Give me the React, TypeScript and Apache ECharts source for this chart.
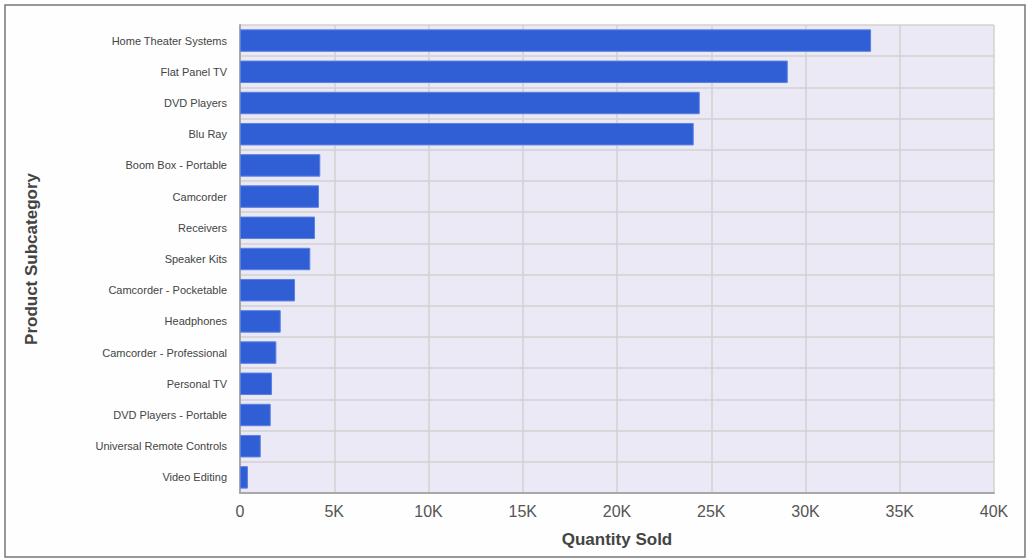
import React, { useEffect, useRef } from "react";
import * as echarts from "echarts";

const categories = [
  "Home Theater Systems",
  "Flat Panel TV",
  "DVD Players",
  "Blu Ray",
  "Boom Box - Portable",
  "Camcorder",
  "Receivers",
  "Speaker Kits",
  "Camcorder - Pocketable",
  "Headphones",
  "Camcorder - Professional",
  "Personal TV",
  "DVD Players - Portable",
  "Universal Remote Controls",
  "Video Editing",
];

const quantitySold = [
  33480, 29060, 24390, 24070, 4260, 4190, 3980, 3730, 2920, 2160, 1930, 1700,
  1630, 1100, 420,
];

const xTicks = { min: 0, max: 40000, interval: 5000 };

export default function App() {
  const ref = useRef<HTMLDivElement>(null);
  useEffect(() => {
    document.body.style.margin = "0";
    const chart = echarts.init(ref.current!, null, { renderer: "svg" });
    chart.setOption({
      animation: false,
      backgroundColor: "#ffffff",
      graphic: [
        {
          type: "rect",
          shape: { x: 5, y: 5, width: 1020, height: 552 },
          style: { fill: "#fdfefd", stroke: "#777777", lineWidth: 1.5 },
          z: -10,
          silent: true,
        },
      ],
      grid: {
        left: 240,
        right: 34,
        top: 25,
        bottom: 67,
        show: true,
        backgroundColor: "#ebe9f5",
        borderWidth: 0,
      },
      xAxis: {
        type: "value",
        min: xTicks.min,
        max: xTicks.max,
        interval: xTicks.interval,
        name: "Quantity Sold",
        nameLocation: "middle",
        nameGap: 38,
        nameTextStyle: {
          fontFamily: "Liberation Sans",
          fontWeight: "bold",
          fontSize: 17,
          color: "#444444",
        },
        axisLine: { show: true, lineStyle: { color: "#a8a8a8", width: 2 } },
        axisTick: { show: false },
        axisLabel: {
          fontFamily: "Liberation Sans",
          fontSize: 16,
          color: "#555555",
          margin: 10,
          formatter: (v: number) => (v === 0 ? "0" : v / 1000 + "K"),
        },
        splitLine: { show: true, lineStyle: { color: "#d2d2d2", width: 1.5 } },
      },
      yAxis: {
        type: "category",
        data: categories,
        inverse: true,
        name: "Product Subcategory",
        nameLocation: "middle",
        nameGap: 200,
        nameRotate: 90,
        nameTextStyle: {
          fontFamily: "Liberation Sans",
          fontWeight: "bold",
          fontSize: 17,
          color: "#444444",
        },
        axisLine: { show: true, lineStyle: { color: "#a8a8a8", width: 2 } },
        axisTick: { show: false },
        axisLabel: {
          fontFamily: "Liberation Sans",
          fontSize: 11,
          color: "#444444",
          margin: 13,
        },
        splitLine: {
          show: true,
          interval: 0,
          lineStyle: { color: "#d2d2d2", width: 1.5 },
        },
      },
      series: [
        {
          type: "bar",
          data: quantitySold,
          barCategoryGap: "28%",
          itemStyle: {
            color: "#305fd5",
            borderColor: "#5c80e2",
            borderWidth: 1,
          },
        },
      ],
    });
    return () => chart.dispose();
  }, []);
  return <div ref={ref} style={{ width: 1028, height: 560 }} />;
}
